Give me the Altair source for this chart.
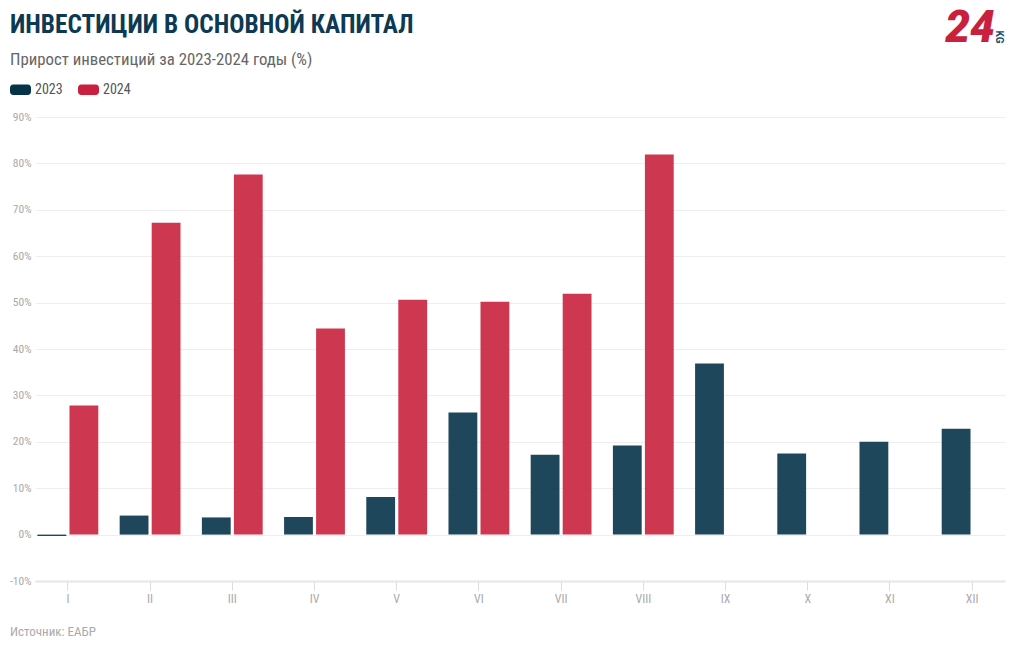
import altair as alt
import pandas as pd

months = ["I", "II", "III", "IV", "V", "VI", "VII", "VIII", "IX", "X", "XI", "XII"]
v2023 = [-0.3, 4.1, 3.7, 3.8, 8.1, 26.3, 17.2, 19.2, 36.9, 17.5, 20.0, 22.8]
v2024 = [27.8, 67.2, 77.6, 44.4, 50.6, 50.2, 51.9, 81.9]
years = ["2023", "2024"]
colors = ["#073349", "#c9213d"]

title_text = "ИНВЕСТИЦИИ В ОСНОВНОЙ КАПИТАЛ"
subtitle_text = "Прирост инвестиций за 2023-2024 годы (%)"
source_text = "Источник: ЕАБР"

rows = []
for m, v in zip(months, v2023):
    rows.append({"month": m, "year": "2023", "value": v})
for m, v in zip(months, v2024):
    rows.append({"month": m, "year": "2024", "value": v})
df = pd.DataFrame(rows)

FONT = "Roboto Condensed, Liberation Sans Narrow, Roboto"
W, H = 970, 464
LEFT, TOP = 35, 117

legend_path = ("M-0.7,-0.5 H0.7 A0.3,0.3 0 0 1 1,-0.2 V0.2 A0.3,0.3 0 0 1 0.7,0.5 "
               "H-0.7 A0.3,0.3 0 0 1 -1,0.2 V-0.2 A0.3,0.3 0 0 1 -0.7,-0.5 Z")

bars = alt.Chart(df).mark_bar(opacity=0.9).encode(
    x=alt.X("month:N", sort=months, title=None,
            scale=alt.Scale(paddingInner=0.26, paddingOuter=0.03),
            axis=alt.Axis(labelAngle=0, labelColor="#aaaaaa", labelFontSize=12, labelFont=FONT,
                          tickColor="#dddddd", tickSize=9, labelPadding=3,
                          domainColor="#e6e6e6", domainWidth=2, grid=False)),
    xOffset=alt.XOffset("year:N", sort=years, scale=alt.Scale(paddingInner=0.1)),
    y=alt.Y("value:Q", title=None,
            scale=alt.Scale(domain=[-10, 90], nice=False, zero=False),
            axis=alt.Axis(values=list(range(-10, 91, 10)), labelExpr="datum.value + '%'",
                          labelColor="#aaaaaa", labelFontSize=11.5, labelFont=FONT,
                          labelPadding=4, ticks=False, domain=False,
                          gridColor="#eeeeee", gridWidth=1)),
    color=alt.Color("year:N", sort=years,
                    scale=alt.Scale(domain=years, range=colors),
                    legend=alt.Legend(title=None, orient="none", direction="horizontal",
                                      legendX=10 - LEFT, legendY=79 - TOP,
                                      symbolType=legend_path, symbolSize=441,
                                      symbolOpacity=1, symbolStrokeWidth=0,
                                      labelFont=FONT, labelFontSize=14, labelColor="#555555",
                                      labelOffset=4, columnPadding=15)),
)

title = alt.Chart(pd.DataFrame({"t": [title_text]})).mark_text(
    font=FONT, fontSize=25.3, fontWeight="bold", color="#0d3a52",
    align="left", baseline="alphabetic"
).encode(x=alt.value(10 - LEFT), y=alt.value(33 - TOP), text="t:N")

subtitle = alt.Chart(pd.DataFrame({"t": [subtitle_text]})).mark_text(
    font=FONT, fontSize=16.8, color="#666666", align="left", baseline="alphabetic"
).encode(x=alt.value(10 - LEFT), y=alt.value(65 - TOP), text="t:N")

logo = alt.Chart(pd.DataFrame({"t": ["24"]})).mark_text(
    font="Roboto", fontSize=44, fontWeight=900, fontStyle="italic", color="#c9213d",
    align="center", baseline="middle"
).encode(x=alt.value(970 - LEFT), y=alt.value(29 - TOP), text="t:N")

logo_kg = alt.Chart(pd.DataFrame({"t": ["KG"]})).mark_text(
    font="Roboto", fontSize=10, fontWeight="bold", color="#1b4a6b",
    align="center", baseline="middle", angle=90
).encode(x=alt.value(999 - LEFT), y=alt.value(37 - TOP), text="t:N")

source = alt.Chart(pd.DataFrame({"t": [source_text]})).mark_text(
    font=FONT, fontSize=13, color="#aaaaaa", align="left", baseline="middle"
).encode(x=alt.value(10 - LEFT), y=alt.value(632 - TOP), text="t:N")

chart = alt.layer(bars, title, subtitle, logo, logo_kg, source).properties(
    width=W, height=H,
    padding={"left": LEFT, "top": TOP, "right": 1020 - LEFT - W, "bottom": 650 - TOP - H},
    autosize=alt.AutoSizeParams(type="none"),
    background="white",
).configure_view(stroke=None)

chart.save("out.html", embed_options={"renderer": "svg", "actions": False})
